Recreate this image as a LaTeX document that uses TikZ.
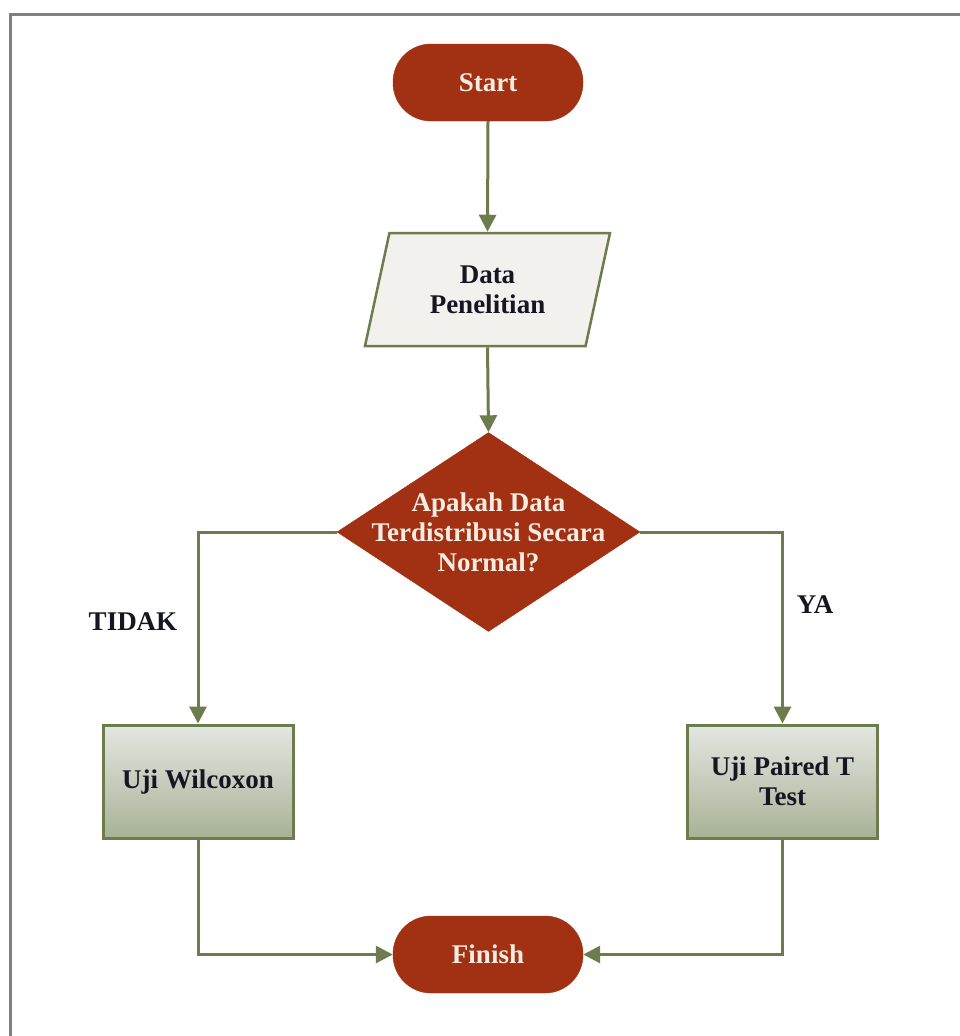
\documentclass[tikz,border=0pt]{standalone}
\usepackage{fontspec}
\setmainfont{Liberation Serif}
\usetikzlibrary{shapes.geometric,arrows.meta}
\definecolor{brick}{RGB}{162,48,18}
\definecolor{lineg}{RGB}{108,124,76}
\definecolor{parafill}{RGB}{243,241,237}
\definecolor{boxtop}{RGB}{228,231,226}
\definecolor{boxbot}{RGB}{168,178,150}
\definecolor{inktext}{RGB}{22,22,34}
\definecolor{lighttext}{RGB}{246,236,226}
\definecolor{framegray}{RGB}{128,128,128}
\tikzset{
  lbl/.style={font=\fontsize{27}{30}\selectfont\bfseries},
  terminal/.style={draw=brick, fill=brick, rounded corners=38pt, minimum width=190pt, minimum height=77pt, inner sep=0pt, text=lighttext, lbl},
  iobox/.style={draw=lineg, line width=2.5pt, fill=parafill, shape=trapezium, trapezium left angle=63, trapezium right angle=117, trapezium stretches body, minimum width=245pt, minimum height=113pt, inner sep=0pt, text=inktext, lbl, align=center},
  decision/.style={draw=brick, fill=brick, shape=diamond, minimum width=303pt, minimum height=199pt, inner sep=0pt},
  dectext/.style={text=lighttext, lbl, align=center},
  procbox/.style={draw=lineg, line width=3pt, top color=boxtop, bottom color=boxbot, minimum width=190pt, minimum height=113pt, inner sep=0pt, text=inktext, lbl, align=center},
  conn/.style={draw=lineg, line width=3pt},
  arr/.style={conn, -{Triangle[length=17pt,width=17pt]}},
  branch/.style={text=inktext, lbl}
}
\begin{document}
\begin{tikzpicture}[x=1pt,y=-1pt]
\useasboundingbox (0,0) rectangle (960,1036);
\fill[white] (0,0) rectangle (960,1036);
\draw[framegray, line width=3pt] (10,1040) -- (10,14) -- (965,14);

\node[terminal] (start) at (488,82.5) {Start};
\node[iobox] (data) at (487.5,289.5) {Data\\Penelitian};
\node[decision] (dec) at (488.5,532) {};
\node[dectext] (dectxt) at (488.5,532) {Apakah Data\\Terdistribusi Secara\\Normal?};
\node[procbox] (wil) at (198,781.5) {Uji Wilcoxon};
\node[procbox] (pai) at (782.5,781.5) {Uji Paired T\\Test};
\node[terminal] (fin) at (488,954.5) {Finish};

\node[branch] (tidak) at (133,622) {TIDAK};
\node[branch] (ya) at (815,605) {YA};

\draw[arr] (start.south) -- (data.north);
\draw[arr] (data.south) -- (dec.north);
\draw[arr] (dec.west) -| (wil.north);
\draw[arr] (dec.east) -| (pai.north);
\draw[arr] (wil.south) |- (fin.west);
\draw[arr] (pai.south) |- (fin.east);
\end{tikzpicture}
\end{document}
